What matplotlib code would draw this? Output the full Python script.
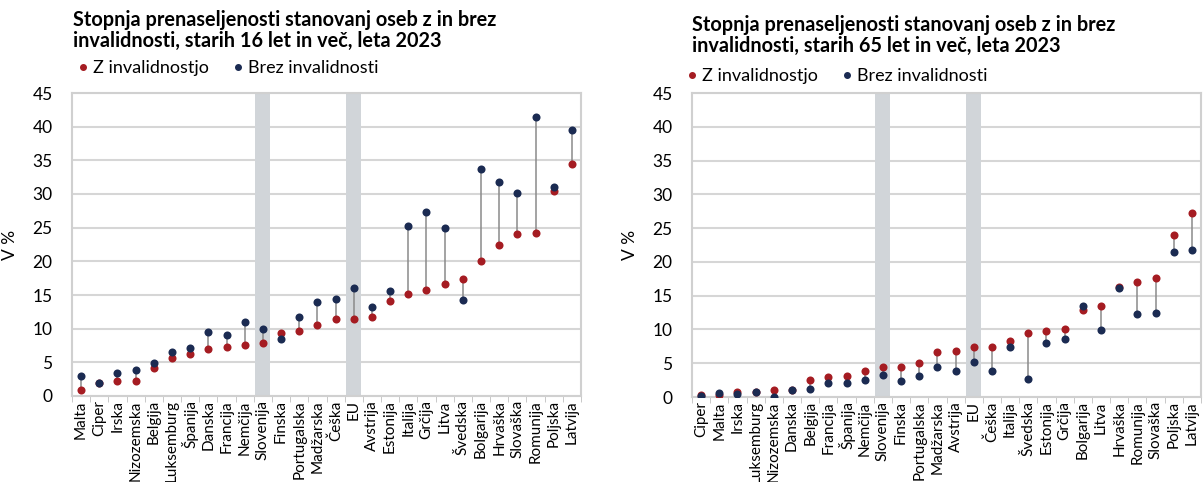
import matplotlib
matplotlib.use('Agg')
from matplotlib import pyplot as plt
from matplotlib.lines import Line2D
import numpy as np

plt.rcParams['font.family'] = ['Lato', 'DejaVu Sans']

# 16 let in vec
countries_16 = ['Malta', 'Ciper', 'Irska', 'Nizozemska', 'Belgija', 'Luksemburg', 'Španija',
                'Danska', 'Francija', 'Nemčija', 'Slovenija', 'Finska', 'Portugalska',
                'Madžarska', 'Češka', 'EU', 'Avstrija', 'Estonija', 'Italija', 'Grčija',
                'Litva', 'Švedska', 'Bolgarija', 'Hrvaška', 'Slovaška', 'Romunija',
                'Poljska', 'Latvija']
with_dis_16 = [0.9, 2.0, 2.3, 2.3, 4.2, 5.6, 6.3, 7.0, 7.3, 7.6, 7.9, 9.4, 9.6, 10.6, 11.4,
               11.4, 11.7, 14.1, 15.2, 15.7, 16.6, 17.4, 20.0, 22.4, 24.1, 24.2, 30.5, 34.4]
no_dis_16 = [2.9, 1.9, 3.4, 3.8, 4.9, 6.5, 7.2, 9.5, 9.0, 11.0, 9.9, 8.5, 11.8, 14.0, 14.4,
             16.1, 13.2, 15.6, 25.3, 27.3, 24.9, 14.2, 33.7, 31.8, 30.1, 41.4, 31.0, 39.5]

# 65 let in vec
countries_65 = ['Ciper', 'Malta', 'Irska', 'Luksemburg', 'Nizozemska', 'Danska', 'Belgija',
                'Francija', 'Španija', 'Nemčija', 'Slovenija', 'Finska', 'Portugalska',
                'Madžarska', 'Avstrija', 'EU', 'Češka', 'Italija', 'Švedska', 'Estonija',
                'Grčija', 'Bolgarija', 'Litva', 'Hrvaška', 'Romunija', 'Slovaška',
                'Poljska', 'Latvija']
with_dis_65 = [0.3, 0.3, 0.8, 0.8, 1.0, 1.1, 2.5, 3.0, 3.1, 3.8, 4.4, 4.4, 5.1, 6.7, 6.8,
               7.4, 7.4, 8.3, 9.5, 9.7, 10.1, 12.9, 13.4, 16.3, 17.0, 17.6, 24.0, 27.3]
no_dis_65 = [0.2, 0.6, 0.4, 0.8, 0.0, 1.0, 1.2, 2.1, 2.0, 2.5, 3.3, 2.4, 3.1, 4.4, 3.9,
             5.2, 3.8, 7.4, 2.7, 8.0, 8.6, 13.4, 9.9, 16.1, 12.3, 12.4, 21.5, 21.8]

highlight = ['Slovenija', 'EU']
legend_labels = ['Z invalidnostjo', 'Brez invalidnosti']

RED = '#a51c22'
BLUE = '#1b2b52'
GRID = '#d6d6d6'
BAND = '#d1d5d9'

W, H = 1203, 482
fig = plt.figure(figsize=(W / 100, H / 100), dpi=100)


def dumbbell(ax, cats, red, blue):
    x = np.arange(len(cats))
    for c in highlight:
        ax.bar(cats.index(c), 45, width=0.82, color=BAND, zorder=1)
    ax.vlines(x, np.minimum(red, blue), np.maximum(red, blue), color='#8a8a8a',
              linewidth=1.1, zorder=2)
    ax.plot(x, red, 'o', color=RED, markersize=5.8, markeredgewidth=0, zorder=3)
    ax.plot(x, blue, 'o', color=BLUE, markersize=5.8, markeredgewidth=0, zorder=4)
    ax.set_xlim(-0.5, len(cats) - 0.5)
    ax.set_ylim(0, 45)
    ax.set_yticks(np.arange(0, 46, 5))
    ax.yaxis.grid(True, color=GRID, linewidth=1.5, zorder=0)
    ax.set_axisbelow(True)
    ax.set_xticks(x)
    ax.set_xticklabels(cats, rotation=90, fontsize=11)
    ax.set_xticks(np.arange(-0.5, len(cats), 1), minor=True)
    ax.tick_params(axis='x', which='major', length=0, pad=3)
    ax.tick_params(axis='x', which='minor', length=4, color='#bfbfbf')
    ax.tick_params(axis='y', length=0, pad=14, labelsize=12.5)
    for s in ax.spines.values():
        s.set_color('#d0d0d0')
        s.set_linewidth(1.5)
    ax.set_ylabel('V %', fontsize=12.5, labelpad=10)
    handles = [Line2D([], [], marker='o', color=RED, linestyle='none', markersize=4),
               Line2D([], [], marker='o', color=BLUE, linestyle='none', markersize=4)]
    return handles


def header(x0, base1, line1, line2, ax, handles, leg_x, leg_y):
    fig.text(x0 / W, 1 - base1 / H, line1, fontsize=14.3, fontweight='bold',
             va='baseline', ha='left')
    fig.text(x0 / W, 1 - (base1 + 21) / H, line2, fontsize=14.3, fontweight='bold',
             va='baseline', ha='left')
    ax.legend(handles, legend_labels, loc='center left',
              bbox_to_anchor=(leg_x / W, 1 - leg_y / H), bbox_transform=fig.transFigure,
              ncol=2, frameon=False, fontsize=13, handletextpad=0.05,
              columnspacing=1.1, handlelength=1.0, borderaxespad=0)


ax1 = fig.add_axes([72 / W, 1 - 396 / H, (581 - 72) / W, (396 - 93) / H])
h = dumbbell(ax1, countries_16, with_dis_16, no_dis_16)
header(73, 26, 'Stopnja prenaseljenosti stanovanj oseb z in brez',
       'invalidnosti, starih 16 let in več, leta 2023', ax1, h, 67, 68)

ax2 = fig.add_axes([692 / W, 1 - 397 / H, (1201 - 692) / W, (397 - 93) / H])
h = dumbbell(ax2, countries_65, with_dis_65, no_dis_65)
header(692, 31, 'Stopnja prenaseljenosti stanovanj oseb z in brez',
       'invalidnosti, starih 65 let in več, leta 2023', ax2, h, 676, 76)

fig.savefig('out.png', dpi=100)
